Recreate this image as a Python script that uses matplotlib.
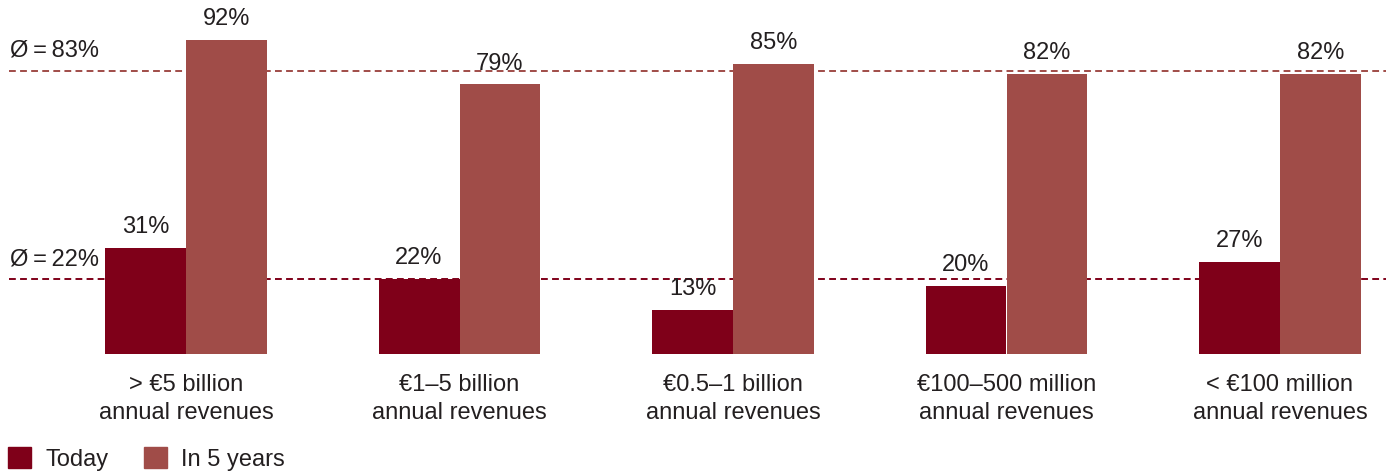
import matplotlib
matplotlib.use("Agg")
import matplotlib.pyplot as plt
from matplotlib.patches import Patch
import numpy as np

# data
categories = ["> €5 billion\nannual revenues", "€1–5 billion\nannual revenues",
              "€0.5–1 billion\nannual revenues", "€100–500 million\nannual revenues",
              "< €100 million\nannual revenues"]
today = [31, 22, 13, 20, 27]
in_5_years = [92, 79, 85, 82, 82]
avg_today = 22
avg_5_years = 83

C_TODAY = "#7f0019"
C_FUTURE = "#a04c48"
TXT = "#231f20"
FS = 17

plt.rcParams["font.family"] = ["Liberation Sans", "DejaVu Sans"]

fig = plt.figure(figsize=(13.86, 4.74), dpi=100)
ax = fig.add_axes([0, (474 - 354) / 474, 1, 354 / 474])

x = np.arange(len(categories))
w = 0.296
ax.set_xlim(-186 / 273.5, (1386 - 186) / 273.5)
ax.set_ylim(0, 354 / 3.413)

ax.bar(x - w / 2, today, w, color=C_TODAY, zorder=3)
ax.bar(x + w / 2, in_5_years, w, color=C_FUTURE, zorder=3)

# average lines
x0 = -0.647
for val, col in [(avg_5_years, C_FUTURE), (avg_today, C_TODAY)]:
    ax.plot([x0, ax.get_xlim()[1]], [val, val], color=col, lw=1.4,
            linestyle=(0, (3.5, 2.2)), zorder=2)
    ax.text(x0 + 0.003, val + 2.6, f"Ø\u2009=\u2009{val}%", fontsize=FS, color=TXT,
            ha="left", va="bottom")

for xi, v in zip(x - w / 2, today):
    ax.annotate(f"{v}%", (xi, v), xytext=(0, 7), textcoords="offset points",
                ha="center", va="bottom", fontsize=FS, color=TXT)
for xi, v in zip(x + w / 2, in_5_years):
    ax.annotate(f"{v}%", (xi, v), xytext=(0, 7), textcoords="offset points",
                ha="center", va="bottom", fontsize=FS, color=TXT)

for xi, cat in zip(x, categories):
    ax.text(xi, -5.8, cat, ha="center", va="top", fontsize=FS, color=TXT,
            linespacing=1.38)

ax.axis("off")

handles = [Patch(color=C_TODAY, label="Today"), Patch(color=C_FUTURE, label="In 5 years")]
fig.legend(handles=handles, loc="lower left", bbox_to_anchor=(8 / 1386, 3 / 474), ncol=2,
           frameon=False, fontsize=FS, handlelength=0.98, handleheight=0.98,
           handletextpad=0.6, columnspacing=1.5, labelcolor=TXT,
           borderaxespad=0, borderpad=0)

fig.savefig("out.png", dpi=100)
